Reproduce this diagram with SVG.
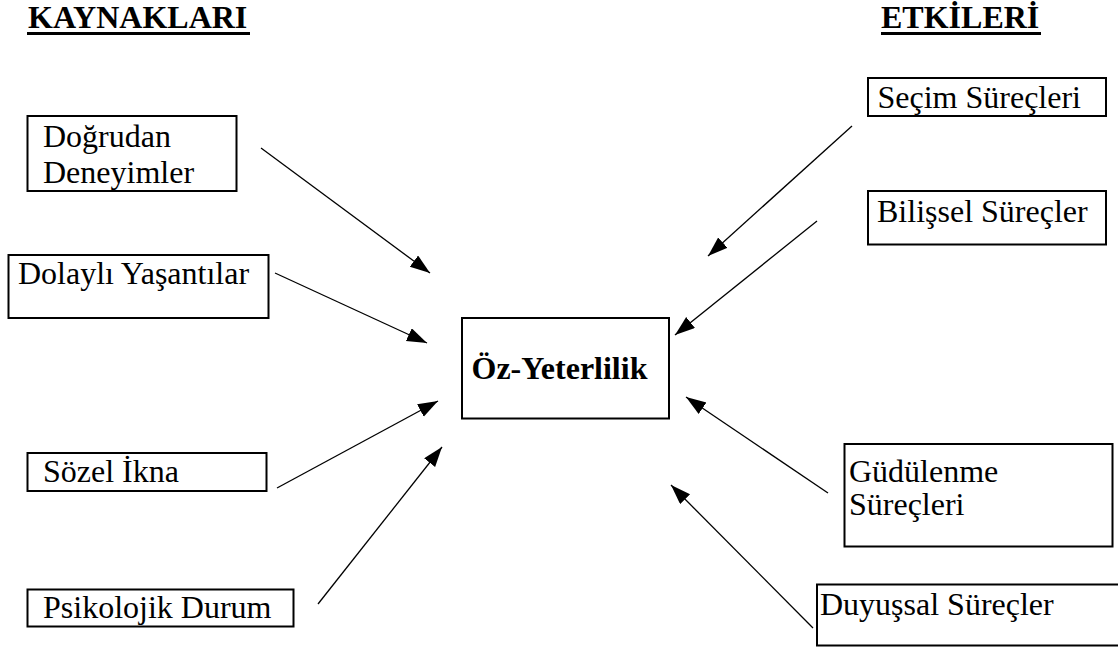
<svg xmlns="http://www.w3.org/2000/svg" width="1118" height="647" viewBox="0 0 1118 647">
  <defs>
    <style>
      .box { fill: none; stroke: #000; stroke-width: 2; }
      .t { font-family: "Liberation Serif", "Times New Roman", serif; font-size: 32px; fill: #000; }
      .b { font-weight: bold; }
      .ul { stroke: #000; stroke-width: 3; }
      .c { stroke: #000; stroke-width: 1.3; fill: none; marker-end: url(#ah); }
    </style>
    <marker id="ah" markerUnits="userSpaceOnUse" markerWidth="22" markerHeight="16" refX="20" refY="7" orient="auto">
      <path d="M0,0 L20,7 L0,14 Z" fill="#000"/>
    </marker>
  </defs>
  <rect width="1118" height="647" fill="#fff"/>

  <g id="headings">
    <text class="t b" x="28" y="28">KAYNAKLARI</text>
    <line class="ul" x1="27" y1="33.5" x2="250" y2="33.5"/>
    <text class="t b" x="881" y="28">ETKİLERİ</text>
    <line class="ul" x1="881" y1="33.5" x2="1041" y2="33.5"/>
  </g>

  <g id="connectors">
    <line class="c" x1="261" y1="148" x2="430" y2="273"/>
    <line class="c" x1="275" y1="273" x2="427" y2="343"/>
    <line class="c" x1="277" y1="488" x2="438" y2="401"/>
    <line class="c" x1="318" y1="604" x2="442" y2="447"/>
    <line class="c" x1="852" y1="126" x2="708" y2="256"/>
    <line class="c" x1="817" y1="221" x2="675" y2="335"/>
    <line class="c" x1="828" y1="493" x2="686" y2="397"/>
    <line class="c" x1="813" y1="628" x2="671" y2="485"/>
  </g>

  <g id="node-dogrudan">
    <rect class="box" x="27.5" y="116" width="209" height="75"/>
    <text class="t" x="43" y="147">Doğrudan</text>
    <text class="t" x="43" y="183">Deneyimler</text>
  </g>
  <g id="node-dolayli">
    <rect class="box" x="8.5" y="255" width="260" height="63"/>
    <text class="t" x="18" y="284">Dolaylı Yaşantılar</text>
  </g>
  <g id="node-sozel">
    <rect class="box" x="27.5" y="453" width="239" height="38"/>
    <text class="t" x="43" y="482">Sözel İkna</text>
  </g>
  <g id="node-psikolojik">
    <rect class="box" x="27.5" y="589.5" width="266" height="37"/>
    <text class="t" x="43" y="618">Psikolojik Durum</text>
  </g>
  <g id="node-oz-yeterlilik">
    <rect class="box" x="462" y="318" width="207" height="100.5"/>
    <text class="t b" x="471.5" y="379">Öz-Yeterlilik</text>
  </g>
  <g id="node-secim">
    <rect class="box" x="868" y="78" width="238" height="38"/>
    <text class="t" x="877.5" y="108">Seçim Süreçleri</text>
  </g>
  <g id="node-bilissel">
    <rect class="box" x="868" y="191" width="238" height="53.5"/>
    <text class="t" x="877" y="222">Bilişsel Süreçler</text>
  </g>
  <g id="node-gudulenme">
    <rect class="box" x="844.5" y="444" width="268" height="102.5"/>
    <text class="t" x="849" y="482">Güdülenme</text>
    <text class="t" x="849" y="515">Süreçleri</text>
  </g>
  <g id="node-duyussal">
    <rect class="box" x="817" y="584.5" width="320" height="61"/>
    <text class="t" x="820" y="615">Duyuşsal Süreçler</text>
  </g>
</svg>
